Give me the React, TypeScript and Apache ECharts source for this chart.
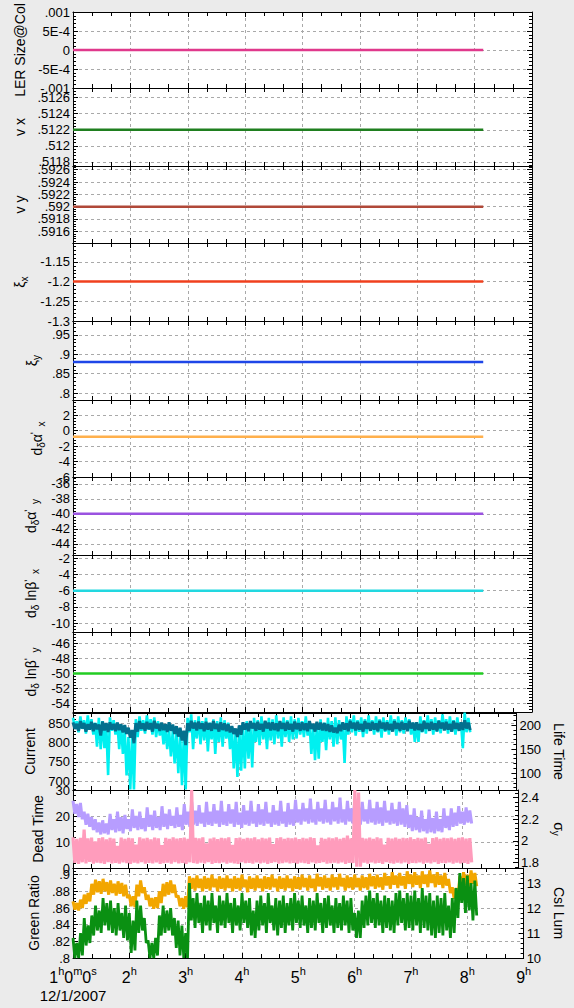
import React, { useEffect, useRef } from 'react';
import * as echarts from 'echarts';

// ---------- time base (hours, 12/1/2007); noisy channels are given as max/min per 4-minute bin ----------
const HOUR_START = 1;
const BIN_HOURS = 1 / 15;
const FLAT_TIMES = [1.0, 8.15];

// ---------- flat lattice parameters (one value across the whole run) ----------
const lerSizeValues = [0, 0];
const nuXValues = [0.5122, 0.5122];
const nuYValues = [0.592, 0.592];
const xiXValues = [-1.2, -1.2];
const xiYValues = [0.88, 0.88];
const dAlphaXValues = [-0.8, -0.8];
const dAlphaYValues = [-40, -40];
const dLnBetaXValues = [-6, -6];
const dLnBetaYValues = [-50, -50];

// ---------- Current (per-bin max / min) ----------
const currentHigh = [
  852, 848, 855, 850, 847, 853, 849, 846, 854, 850, 852, 848, 851, 847, 845, 838, 832, 850, 855, 849,
  853, 850, 856, 848, 851, 847, 852, 846, 842, 838, 830, 850, 856, 851, 854, 849, 853, 850, 855, 848,
  852, 849, 847, 842, 836, 844, 852, 849, 855, 850, 853, 848, 856, 851, 852, 849, 855, 850, 853, 848,
  854, 850, 852, 849, 855, 848, 853, 851, 850, 847, 844, 838, 846, 852, 849, 856, 851, 853, 848, 855,
  850, 853, 849, 856, 851, 852, 848, 855, 850, 853, 849, 856, 851, 852, 848, 855, 850, 853, 849, 856,
  851, 853, 848, 855, 850, 852, 857, 851,
];
const currentLow = [
  835, 830, 836, 828, 833, 829, 834, 818, 831, 827, 833, 829, 832, 826, 822, 812, 798, 828, 835, 830,
  834, 828, 836, 830, 832, 827, 830, 822, 815, 805, 793, 830, 836, 831, 835, 829, 833, 830, 835, 828,
  832, 829, 826, 822, 814, 820, 833, 829, 836, 830, 833, 828, 836, 831, 832, 829, 835, 830, 833, 828,
  834, 830, 832, 829, 835, 828, 833, 831, 830, 827, 826, 824, 829, 833, 829, 836, 831, 833, 828, 835,
  830, 833, 829, 836, 831, 832, 828, 835, 830, 833, 829, 836, 831, 832, 828, 835, 830, 833, 829, 836,
  831, 833, 828, 835, 830, 832, 836, 832,
];
// ---------- Life Time ----------
const lifeTimeHigh = [
  215, 208, 218, 210, 220, 212, 205, 215, 208, 200, 216, 210, 205, 200, 190, 175, 180, 212, 218, 210,
  220, 212, 216, 208, 200, 195, 190, 188, 185, 180, 178, 215, 222, 210, 218, 208, 215, 205, 212, 208,
  216, 210, 205, 195, 185, 190, 200, 208, 200, 215, 210, 218, 208, 215, 212, 220, 208, 216, 210, 218,
  212, 215, 208, 218, 205, 195, 200, 212, 205, 215, 208, 216, 210, 200, 218, 212, 220, 210, 216, 212,
  220, 210, 218, 212, 216, 210, 220, 212, 218, 210, 216, 212, 205, 200, 218, 210, 220, 212, 216, 210,
  222, 212, 218, 210, 216, 205, 226, 215,
];
const lifeTimeLow = [
  195, 185, 192, 182, 190, 180, 155, 150, 152, 96, 188, 180, 150, 140, 95, 66, 66, 175, 188, 182,
  190, 180, 175, 178, 160, 150, 135, 120, 100, 75, 66, 185, 150, 172, 160, 168, 145, 170, 140, 165,
  155, 172, 150, 110, 92, 105, 110, 130, 112, 165, 158, 170, 150, 168, 160, 172, 155, 175, 165, 170,
  172, 180, 175, 178, 140, 127, 130, 165, 148, 170, 155, 160, 170, 121, 180, 185, 178, 186, 175, 182,
  188, 180, 185, 174, 186, 180, 188, 178, 185, 182, 188, 180, 165, 165, 185, 182, 190, 180, 186, 183,
  190, 182, 186, 180, 188, 152, 185, 185,
];
// ---------- Dead Time ----------
const deadTimeHigh = [
  11.8, 11.2, 11.6, 14.8, 11.4, 11.7, 10.2, 11.5, 11.8, 11.0, 11.6, 11.3, 8.5, 11.7, 11.2, 11.6, 11.4, 9.0, 11.8, 11.3,
  11.6, 11.0, 11.7, 11.4, 8.8, 11.6, 11.2, 11.8, 11.3, 11.5, 11.7, 11.2, 30, 11.6, 11.4, 11.8, 9.5, 11.3, 11.7, 11.1,
  11.6, 11.4, 11.8, 8.9, 11.5, 11.7, 11.2, 11.6, 11.4, 11.8, 11.0, 11.6, 11.3, 11.7, 9.2, 11.5, 11.8, 11.2, 11.6, 11.4,
  11.7, 11.1, 11.6, 11.3, 11.8, 11.5, 8.7, 11.6, 11.2, 11.7, 11.4, 11.8, 11.2, 11.6, 12.5, 11.4, 30, 29, 11.6, 11.3,
  11.7, 11.2, 11.8, 11.4, 9.0, 11.6, 11.3, 11.7, 11.2, 11.6, 11.4, 11.8, 11.1, 11.6, 11.3, 11.7, 9.3, 11.5, 11.8, 11.2,
  11.6, 11.4, 11.7, 11.2, 11.6, 11.8, 11.3, 11.5,
];
const deadTimeLow = [
  2.0, 1.6, 2.2, 1.8, 2.4, 1.7, 2.1, 1.9, 1.6, 2.3, 1.8, 2.0, 1.7, 2.2, 1.9, 1.6, 2.1, 1.8, 2.3, 1.7,
  2.0, 1.8, 2.2, 1.6, 1.9, 2.1, 1.7, 2.3, 1.8, 2.0, 1.6, 2.2, 1.9, 1.7, 2.1, 1.8, 2.3, 1.6, 2.0, 1.9,
  2.2, 1.7, 2.1, 1.8, 1.6, 2.3, 1.9, 2.0, 1.7, 2.2, 1.8, 2.1, 1.6, 2.0, 2.3, 1.7, 1.9, 2.2, 1.8, 2.0,
  1.7, 2.1, 1.9, 1.6, 2.2, 1.8, 2.0, 2.3, 1.7, 1.9, 2.1, 1.8, 2.2, 1.6, 2.0, 1.9, 0.5, 0.5, 2.1, 1.7,
  2.2, 1.8, 2.0, 1.6, 2.3, 1.9, 1.7, 2.1, 1.8, 2.2, 1.6, 2.0, 1.9, 2.2, 1.7, 2.1, 1.8, 2.3, 1.6, 2.0,
  1.9, 2.2, 1.7, 2.1, 1.8, 2.0, 1.6, 2.2,
];
// ---------- sigma y ----------
const sigmaYHigh = [
  2.37, 2.34, 2.35, 2.27, 2.25, 2.22, 2.2, 2.17, 2.19, 2.16, 2.25, 2.2, 2.27, 2.22, 2.24, 2.2, 2.29, 2.23, 2.27, 2.21,
  2.31, 2.24, 2.28, 2.22, 2.32, 2.25, 2.29, 2.23, 2.31, 2.24, 2.34, 2.27, 2.36, 2.28, 2.33, 2.26, 2.36, 2.27, 2.34, 2.28,
  2.37, 2.27, 2.34, 2.29, 2.36, 2.26, 2.33, 2.28, 2.37, 2.27, 2.34, 2.29, 2.36, 2.26, 2.33, 2.28, 2.37, 2.27, 2.35, 2.29,
  2.38, 2.29, 2.35, 2.3, 2.39, 2.29, 2.36, 2.3, 2.38, 2.29, 2.36, 2.31, 2.4, 2.29, 2.37, 2.3, 2.39, 2.31, 2.36, 2.29,
  2.38, 2.3, 2.36, 2.31, 2.37, 2.28, 2.35, 2.29, 2.36, 2.3, 2.33, 2.24, 2.3, 2.22, 2.28, 2.2, 2.29, 2.21, 2.27, 2.2,
  2.3, 2.23, 2.3, 2.26, 2.32, 2.27, 2.31, 2.28,
];
const sigmaYLow = [
  2.25, 2.22, 2.2, 2.15, 2.13, 2.1, 2.08, 2.06, 2.07, 2.06, 2.1, 2.08, 2.09, 2.07, 2.11, 2.09, 2.12, 2.1, 2.11, 2.09,
  2.13, 2.1, 2.12, 2.1, 2.13, 2.11, 2.14, 2.12, 2.13, 2.1, 2.15, 2.13, 2.15, 2.14, 2.16, 2.13, 2.15, 2.14, 2.16, 2.13,
  2.15, 2.14, 2.16, 2.13, 2.15, 2.12, 2.15, 2.14, 2.16, 2.13, 2.15, 2.14, 2.16, 2.13, 2.15, 2.14, 2.16, 2.13, 2.15, 2.14,
  2.17, 2.15, 2.18, 2.16, 2.17, 2.15, 2.18, 2.16, 2.17, 2.15, 2.18, 2.16, 2.17, 2.15, 2.18, 2.16, 2.17, 2.15, 2.18, 2.16,
  2.17, 2.15, 2.16, 2.14, 2.17, 2.15, 2.16, 2.14, 2.15, 2.13, 2.12, 2.09, 2.1, 2.08, 2.09, 2.07, 2.08, 2.07, 2.09, 2.08,
  2.12, 2.1, 2.13, 2.14, 2.16, 2.15, 2.17, 2.16,
];
// ---------- Green Ratio ----------
const greenRatioHigh = [
  0.868, 0.866, 0.87, 0.876, 0.878, 0.889, 0.894, 0.892, 0.895, 0.891, 0.893, 0.889, 0.892, 0.89, 0.888, 0.876, 0.874, 0.888, 0.893, 0.885,
  0.876, 0.872, 0.873, 0.88, 0.889, 0.891, 0.893, 0.888, 0.875, 0.872, 0.874, 0.898, 0.896, 0.899, 0.895, 0.898, 0.896, 0.9, 0.895, 0.898,
  0.896, 0.899, 0.895, 0.898, 0.896, 0.9, 0.894, 0.898, 0.896, 0.899, 0.895, 0.898, 0.897, 0.9, 0.895, 0.898, 0.896, 0.899, 0.895, 0.898,
  0.897, 0.9, 0.896, 0.899, 0.895, 0.901, 0.897, 0.899, 0.896, 0.9, 0.897, 0.901, 0.896, 0.899, 0.897, 0.9, 0.896, 0.899, 0.897, 0.901,
  0.898, 0.9, 0.897, 0.902, 0.898, 0.903, 0.899, 0.902, 0.898, 0.904, 0.9, 0.903, 0.899, 0.904, 0.9, 0.905, 0.9, 0.903, 0.899, 0.902,
  0.895, 0.885, 0.884, 0.898, 0.903, 0.9, 0.905, 0.902,
];
const greenRatioLow = [
  0.858, 0.857, 0.86, 0.865, 0.868, 0.876, 0.879, 0.877, 0.88, 0.876, 0.878, 0.875, 0.877, 0.874, 0.872, 0.862, 0.861, 0.874, 0.878, 0.87,
  0.862, 0.859, 0.86, 0.866, 0.874, 0.876, 0.878, 0.873, 0.862, 0.859, 0.861, 0.883, 0.881, 0.884, 0.88, 0.883, 0.881, 0.885, 0.88, 0.883,
  0.881, 0.884, 0.88, 0.883, 0.881, 0.885, 0.879, 0.883, 0.881, 0.884, 0.88, 0.883, 0.882, 0.885, 0.88, 0.883, 0.881, 0.884, 0.88, 0.883,
  0.882, 0.885, 0.881, 0.884, 0.88, 0.886, 0.882, 0.884, 0.881, 0.885, 0.882, 0.886, 0.881, 0.884, 0.882, 0.885, 0.881, 0.884, 0.882, 0.886,
  0.883, 0.885, 0.882, 0.887, 0.883, 0.888, 0.884, 0.887, 0.883, 0.889, 0.885, 0.888, 0.884, 0.889, 0.885, 0.89, 0.885, 0.888, 0.884, 0.887,
  0.878, 0.871, 0.87, 0.882, 0.888, 0.884, 0.889, 0.886,
];
// ---------- CsI Lum ----------
const csiLumHigh = [
  10.8, 10.6, 11.0, 11.6, 11.3, 11.7, 12.1, 11.9, 12.4, 12.2, 12.3, 12.0, 12.2, 11.8, 12.1, 11.8, 11.5, 12.3, 12.1, 11.6,
  10.7, 10.6, 10.8, 11.7, 12.1, 11.9, 12.0, 11.6, 11.5, 11.3, 11.0, 13.0, 12.4, 12.6, 12.2, 12.5, 12.3, 12.6, 12.1, 12.5,
  12.3, 12.6, 12.2, 12.4, 12.1, 12.6, 12.3, 12.4, 11.9, 12.3, 12.5, 12.2, 12.6, 12.1, 12.4, 12.3, 12.5, 12.2, 12.4, 12.6,
  12.3, 12.5, 12.1, 12.4, 12.3, 12.6, 12.2, 12.4, 12.5, 12.1, 12.4, 12.2, 12.5, 12.3, 12.4, 11.8, 11.9, 12.3, 12.5, 12.7,
  12.4, 12.6, 12.3, 12.5, 12.4, 12.3, 12.6, 12.7, 12.4, 12.6, 12.5, 12.7, 12.4, 12.8, 12.5, 12.6, 12.3, 12.5, 12.4, 12.6,
  12.1, 12.4, 12.8, 13.4, 13.2, 13.3, 13.0, 13.1,
];
const csiLumLow = [
  10.0, 10.0, 10.1, 10.5, 10.6, 10.9, 11.1, 11.0, 11.3, 11.1, 11.0, 10.9, 11.1, 10.8, 10.7, 10.2, 10.3, 11.0, 11.1, 10.6,
  10.0, 10.0, 10.1, 10.9, 11.0, 11.1, 10.9, 10.4, 10.1, 10.0, 10.0, 11.5, 11.2, 11.4, 11.0, 11.3, 11.1, 11.4, 11.0, 11.3,
  11.2, 11.4, 11.0, 11.3, 11.1, 11.4, 11.2, 10.9, 10.8, 11.1, 11.3, 11.0, 11.4, 11.1, 10.9, 11.2, 11.0, 11.3, 11.1, 11.4,
  11.2, 11.3, 11.0, 11.2, 11.1, 11.4, 11.0, 11.2, 11.3, 11.0, 11.2, 11.1, 11.3, 11.0, 11.1, 10.8, 10.8, 11.2, 11.3, 11.4,
  11.2, 11.3, 11.0, 11.2, 11.1, 11.0, 11.3, 11.4, 11.1, 11.2, 11.1, 11.3, 11.0, 11.2, 11.1, 10.9, 10.8, 11.0, 10.9, 11.1,
  10.8, 11.0, 11.6, 12.2, 11.8, 11.9, 11.5, 11.7,
];

// ---------- x-axis tick labels ----------
const hourTicks = [1, 2, 3, 4, 5, 6, 7, 8, 9];
const dateLabel = '12/1/2007';

const FONT = 'Liberation Sans, Arial, Helvetica, sans-serif';

const stripZero = (v: number) => {
  const s = String(Number(v.toFixed(6)));
  return s.replace(/^0\./, '.').replace(/^-0\./, '-.');
};
const lerFmt = (v: number) => {
  if (Math.abs(v) < 1e-12) return '0';
  if (Math.abs(Math.abs(v) - 0.0005) < 1e-9) return v < 0 ? '-5E-4' : '5E-4';
  return stripZero(v);
};

// bins -> plotted points: the max of each 4-minute bin, then its min two minutes later
const binPoints = (high: number[], low: number[]) => {
  const pts: number[][] = [];
  high.forEach((h, j) => {
    const t = HOUR_START + j * BIN_HOURS;
    pts.push([t, h]);
    pts.push([t + BIN_HOURS / 2, low[j]]);
  });
  return pts;
};
const flatPoints = (v: number[]) => v.map((y, i) => [FLAT_TIMES[i], y]);

const nameRich = {
  n: { fontSize: 14, lineHeight: 18, verticalAlign: 'middle', fontFamily: FONT, color: '#000' },
  s: { fontSize: 10, lineHeight: 18, verticalAlign: 'bottom', fontFamily: FONT, color: '#000' },
  p: { fontSize: 11, lineHeight: 18, verticalAlign: 'top', fontFamily: FONT, color: '#000' },
};

type SeriesDef = { data: number[][]; color: string; width: number; right?: boolean };
type RightAxis = { name: string; nameGap: number; min: number; max: number; split: number; showMin: boolean; showMax: boolean };
type Panel = {
  top: number; bottom: number; name: string; nameGap: number;
  min: number; max: number; split: number; fmt: (v: number) => string;
  showMin: boolean; showMax: boolean; series: SeriesDef[]; right?: RightAxis;
};

const panels: Panel[] = [
  { top: 12, bottom: 88, name: 'LER Size@Col', nameGap: 40, min: -0.001, max: 0.001, split: 4, fmt: lerFmt, showMin: true, showMax: true,
    series: [{ data: flatPoints(lerSizeValues), color: '#e0388c', width: 2.5 }] },
  { top: 88, bottom: 166, name: 'v x', nameGap: 40, min: 0.51175, max: 0.51272, split: 5, fmt: stripZero, showMin: false, showMax: false,
    series: [{ data: flatPoints(nuXValues), color: '#1f7f1f', width: 2.5 }] },
  { top: 166, bottom: 243, name: 'v y', nameGap: 40, min: 0.59141, max: 0.59266, split: 6, fmt: stripZero, showMin: false, showMax: false,
    series: [{ data: flatPoints(nuYValues), color: '#b04838', width: 2.5 }] },
  { top: 243, bottom: 321, name: '{n|ξ}{s|x}', nameGap: 41, min: -1.3, max: -1.102, split: 4, fmt: stripZero, showMin: true, showMax: false,
    series: [{ data: flatPoints(xiXValues), color: '#f0401e', width: 2.5 }] },
  { top: 321, bottom: 400, name: '{n|ξ}{s|y}', nameGap: 30, min: 0.782, max: 0.986, split: 4, fmt: stripZero, showMin: false, showMax: false,
    series: [{ data: flatPoints(xiYValues), color: '#1e46e8', width: 2.5 }] },
  { top: 400, bottom: 477, name: '{n|d}{s|δ}{n|α}{p|ʹ}{s|  x}', nameGap: 27, min: -6, max: 3.95, split: 5, fmt: stripZero, showMin: true, showMax: false,
    series: [{ data: flatPoints(dAlphaXValues), color: '#ffb04c', width: 2.5 }] },
  { top: 477, bottom: 555, name: '{n|d}{s|δ}{n|α}{p|ʹ}{s|  y}', nameGap: 27, min: -45.5, max: -35.1, split: 5, fmt: stripZero, showMin: false, showMax: false,
    series: [{ data: flatPoints(dAlphaYValues), color: '#9a52e0', width: 2.5 }] },
  { top: 555, bottom: 632, name: '{n|d}{s|δ}{n| lnβ}{p|ʹ}{s|  x}', nameGap: 31, min: -11.1, max: -1.6, split: 5, fmt: stripZero, showMin: false, showMax: false,
    series: [{ data: flatPoints(dLnBetaXValues), color: '#22d8e0', width: 2.5 }] },
  { top: 632, bottom: 712, name: '{n|d}{s|δ}{n| lnβ}{p|ʹ}{s|  y}', nameGap: 31, min: -55.1, max: -44.5, split: 5, fmt: stripZero, showMin: false, showMax: false,
    series: [{ data: flatPoints(dLnBetaYValues), color: '#22cc22', width: 2.5 }] },
  { top: 713, bottom: 790, name: 'Current', nameGap: 26, min: 677, max: 876, split: 4, fmt: stripZero, showMin: false, showMax: false,
    series: [
      { data: binPoints(lifeTimeHigh, lifeTimeLow), color: '#00f0f0', width: 2.6, right: true },
      { data: binPoints(currentHigh, currentLow), color: '#03708e', width: 3 },
    ],
    right: { name: 'Life Time', nameGap: 29, min: 65, max: 225, split: 4, showMin: false, showMax: false } },
  { top: 790, bottom: 868, name: 'Dead Time', nameGap: 25, min: 0, max: 30, split: 3, fmt: stripZero, showMin: true, showMax: true,
    series: [
      { data: binPoints(sigmaYHigh, sigmaYLow), color: '#b79dff', width: 3, right: true },
      { data: binPoints(deadTimeHigh, deadTimeLow), color: '#ff9cbc', width: 3.2 },
    ],
    right: { name: '{n|σ}{s|y}', nameGap: 29, min: 1.75, max: 2.47, split: 4, showMin: false, showMax: false } },
  { top: 868, bottom: 958, name: 'Green Ratio', nameGap: 25, min: 0.8, max: 0.908, split: 5, fmt: stripZero, showMin: true, showMax: false,
    series: [
      { data: binPoints(greenRatioHigh, greenRatioLow), color: '#f2a600', width: 3 },
      { data: binPoints(csiLumHigh, csiLumLow), color: '#0a9012', width: 2.8, right: true },
    ],
    right: { name: 'CsI Lum', nameGap: 27, min: 10, max: 13.6, split: 3, showMin: true, showMax: false } },
];

const tickLine = { color: '#000', width: 1 };
const gridLine = { color: '#a9a9a9', width: 1, type: [3, 3] };

function buildOption() {
  const grid: any[] = [];
  const xAxis: any[] = [];
  const yAxis: any[] = [];
  const series: any[] = [];
  panels.forEach((p, k) => {
    const last = k === panels.length - 1;
    grid.push({ left: 73, right: 42, top: p.top, height: p.bottom - p.top, show: true, backgroundColor: '#ffffff', borderWidth: 0 });
    const xi = xAxis.length;
    xAxis.push({
      type: 'value', gridIndex: k, position: 'bottom', min: 1, max: 9, interval: 1,
      axisLine: { show: true, onZero: false, lineStyle: tickLine },
      axisTick: { show: true, inside: true, length: 5, lineStyle: tickLine },
      minorTick: { show: true, splitNumber: 3, length: 4, lineStyle: tickLine },
      splitLine: { show: true, lineStyle: gridLine },
      axisLabel: last
        ? {
            show: true, interval: 0, margin: 7, showMinLabel: true, showMaxLabel: true,
            formatter: (v: number) => {
              if (!hourTicks.includes(v)) return '';
              return v === 1
                ? `{n|1}{s|h}{n|0}{s|m}{n|0}{s|s}\n{d|${dateLabel}}`
                : `{n|${v}}{s|h}`;
            },
            rich: {
              n: { fontSize: 16, lineHeight: 20, verticalAlign: 'bottom', color: '#000', fontFamily: FONT },
              s: { fontSize: 11, lineHeight: 20, verticalAlign: 'top', color: '#000', fontFamily: FONT },
              d: { fontSize: 15, lineHeight: 20, color: '#000', fontFamily: FONT },
            },
          }
        : { show: false },
    });
    xAxis.push({
      type: 'value', gridIndex: k, position: 'top', min: 1, max: 9, interval: 1,
      axisLine: { show: true, onZero: false, lineStyle: tickLine },
      axisTick: { show: true, inside: true, length: 5, lineStyle: tickLine },
      minorTick: { show: true, splitNumber: 3, length: 4, lineStyle: tickLine },
      splitLine: { show: false }, axisLabel: { show: false },
    });
    const yl = yAxis.length;
    yAxis.push({
      type: 'value', gridIndex: k, position: 'left', min: p.min, max: p.max, splitNumber: p.split, scale: true,
      axisLine: { show: true, onZero: false, lineStyle: tickLine },
      axisTick: { show: true, inside: true, length: 5, lineStyle: tickLine },
      minorTick: { show: true, splitNumber: 5, length: 3, lineStyle: tickLine },
      splitLine: { show: true, lineStyle: gridLine },
      axisLabel: { show: true, fontSize: 13, color: '#000', margin: 3, fontFamily: FONT, formatter: p.fmt, showMinLabel: p.showMin, showMaxLabel: p.showMax },
      name: p.name, nameLocation: 'middle', nameGap: p.nameGap, nameRotate: 90,
      nameTextStyle: { fontSize: 14, color: '#000', fontFamily: FONT, rich: nameRich },
    });
    const r = p.right;
    yAxis.push({
      type: 'value', gridIndex: k, position: 'right',
      min: r ? r.min : p.min, max: r ? r.max : p.max, splitNumber: r ? r.split : p.split, scale: true,
      axisLine: { show: true, onZero: false, lineStyle: tickLine },
      axisTick: { show: true, inside: true, length: 5, lineStyle: tickLine },
      minorTick: { show: true, splitNumber: 5, length: 3, lineStyle: tickLine },
      splitLine: { show: false },
      axisLabel: r
        ? { show: true, fontSize: 13, color: '#000', margin: 3, fontFamily: FONT, formatter: stripZero, showMinLabel: r.showMin, showMaxLabel: r.showMax }
        : { show: false },
      name: r ? r.name : '', nameLocation: 'middle', nameGap: r ? r.nameGap : 0, nameRotate: -90,
      nameTextStyle: { fontSize: 14, color: '#000', fontFamily: FONT, rich: nameRich },
    });
    p.series.forEach((s) => {
      series.push({
        type: 'line', xAxisIndex: xi, yAxisIndex: s.right ? yl + 1 : yl,
        data: s.data, showSymbol: false, symbol: 'none', clip: true,
        lineStyle: { color: s.color, width: s.width },
        itemStyle: { color: s.color },
      });
    });
  });
  return {
    animation: false,
    backgroundColor: '#ebebeb',
    textStyle: { fontFamily: FONT },
    grid, xAxis, yAxis, series,
  };
}

export default function App() {
  const ref = useRef<HTMLDivElement>(null);
  useEffect(() => {
    if (!ref.current) return;
    const chart = echarts.init(ref.current, undefined, { renderer: 'svg' });
    chart.setOption(buildOption() as any);
    return () => chart.dispose();
  }, []);
  return (
    <div style={{ position: 'fixed', left: 0, top: 0, width: 574, height: 1008, background: '#ebebeb' }}>
      <div ref={ref} style={{ width: 574, height: 1008 }} />
    </div>
  );
}
